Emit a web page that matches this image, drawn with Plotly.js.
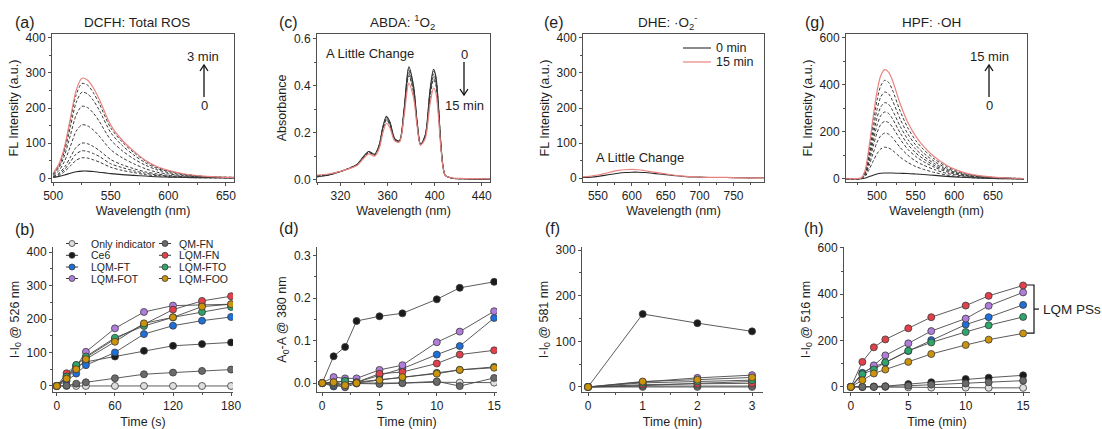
<!DOCTYPE html>
<html>
<head>
<meta charset="utf-8">
<script src="https://cdn.plot.ly/plotly-3.0.1.min.js"></script>
<style>html,body{margin:0;padding:0;background:#fff;}#chart{width:1102px;height:429px;}</style>
</head>
<body>
<div id="chart"></div>
<script>
// ---------------- DATA ----------------
// (a) DCFH: Total ROS, emission spectra, 0 -> 3 min
const wlDCFH = [500,505,510,515,520,525,530,535,540,550,560,570,580,590,600,615,630,645,660];
const dcfhStart = [2,5,9,14,18,20,20,19,17,13,10,8,6,4,3,2,1,1,0];
const dcfhMid = [
  [3,8,19,35,51,58,57,52,46,31,22,16,10,7,4,2,1,1,0],
  [4,11,25,47,69,78,76,70,62,41,30,21,14,9,6,3,2,1,1],
  [5,14,32,60,88,100,98,90,79,53,38,27,18,12,8,4,2,1,1],
  [8,21,49,91,134,152,149,137,120,81,58,41,27,17,12,6,3,2,1],
  [10,29,66,123,180,205,201,185,162,109,78,55,37,24,16,8,4,2,2],
  [12,34,78,147,216,245,240,221,194,130,93,66,44,28,19,10,5,3,2],
  [14,38,86,162,238,270,265,243,213,143,103,73,49,31,21,11,5,3,2]
];
const dcfhEnd = [14,40,91,171,251,285,279,257,225,151,108,77,51,33,22,11,6,3,2];

// (c) ABDA: 1O2, absorbance, 0 -> 15 min
const wlABDA = [300,310,320,328,334,339,344,349,353,356,359,362,366,370,374,378,382,385,388,392,396,399,401,403,405,407,409,415,425,435,447];
const abdaStart = [0.012,0.020,0.035,0.050,0.065,0.095,0.120,0.108,0.150,0.225,0.270,0.245,0.175,0.165,0.300,0.480,0.400,0.250,0.150,0.190,0.380,0.470,0.440,0.330,0.170,0.060,0.018,0.006,0.004,0.003,0.002];
const abdaMid = [
  [0.013,0.020,0.035,0.050,0.065,0.094,0.119,0.107,0.149,0.223,0.267,0.243,0.174,0.165,0.297,0.473,0.395,0.248,0.150,0.189,0.374,0.462,0.433,0.325,0.168,0.060,0.018,0.006,0.004,0.003,0.002],
  [0.014,0.021,0.035,0.050,0.064,0.093,0.118,0.106,0.146,0.219,0.263,0.239,0.173,0.164,0.293,0.463,0.388,0.245,0.149,0.186,0.365,0.450,0.423,0.318,0.165,0.059,0.018,0.006,0.004,0.003,0.002],
  [0.015,0.022,0.035,0.049,0.063,0.092,0.116,0.105,0.144,0.215,0.258,0.235,0.171,0.163,0.288,0.452,0.380,0.242,0.149,0.184,0.356,0.438,0.412,0.310,0.162,0.058,0.018,0.006,0.004,0.003,0.002],
  [0.016,0.022,0.035,0.049,0.062,0.091,0.115,0.104,0.142,0.211,0.254,0.231,0.170,0.162,0.284,0.442,0.373,0.239,0.148,0.182,0.347,0.426,0.402,0.303,0.159,0.057,0.018,0.006,0.004,0.003,0.002]
];
const abdaEnd = [0.019,0.024,0.035,0.048,0.060,0.087,0.110,0.100,0.135,0.200,0.240,0.220,0.165,0.160,0.270,0.410,0.350,0.230,0.147,0.175,0.320,0.390,0.370,0.280,0.150,0.055,0.018,0.007,0.005,0.004,0.003];

// (e) DHE: .O2-, emission spectra
const wlDHE = [528,540,550,560,570,580,590,600,610,620,630,640,650,660,670,680,700,720,740,760,795];
const dhe0min = [2,3,5,8,11,14,16,17,17,16,14,12,10,8,6,4,3,2,2,1,1];
const dhe15min = [4,6,9,13,18,22,24,25,24,21,18,15,12,9,7,5,3,2,2,1,1];

// (g) HPF: .OH, emission spectra, 0 -> 15 min
const wlHPF = [460,470,480,485,490,495,500,505,510,515,520,530,540,550,560,575,590,600,615,630,650,670,690];
const hpfStart = [0,0,1,4,10,16,21,24,25,25,25,24,23,21,19,15,11,9,6,4,2,1,0];
const hpfMid = [
  [0,0,1,12,41,75,107,128,135,132,122,93,70,53,41,27,17,12,7,4,2,1,1],
  [0,0,2,17,59,109,155,184,195,191,176,134,101,76,59,39,24,18,11,6,3,2,1],
  [0,0,3,21,74,137,195,232,245,240,221,169,126,96,74,49,31,22,13,8,4,2,1],
  [0,1,3,25,86,159,227,270,285,279,257,196,147,111,86,56,36,26,15,9,5,3,1],
  [0,1,4,28,98,182,259,307,325,318,293,224,168,127,98,64,41,29,18,10,6,3,1],
  [0,1,4,32,111,207,295,350,370,362,334,255,191,145,111,73,46,33,20,12,6,3,1],
  [0,1,5,36,126,235,334,397,420,411,379,289,217,164,126,83,53,38,23,13,7,4,2]
];
const hpfEnd = [0,1,5,40,140,260,370,440,465,455,420,320,240,182,140,92,58,42,25,15,8,4,2];

// Kinetics: series names (legend order)
const seriesNames = ['Only indicator','Ce6','LQM-FT','LQM-FOT','QM-FN','LQM-FN','LQM-FTO','LQM-FOO'];

// (b) I-I0 @ 526 nm vs time (s)
const timeB = [0,10,20,30,60,90,120,150,180];
const onlyB = [0,0,0,0,0,0,0,0,0];
const ce6B  = [0,25,55,72,88,105,120,125,130];
const ftB   = [0,15,37,62,100,155,180,195,206];
const fotB  = [0,30,58,102,172,221,240,242,244];
const qmB   = [0,1,7,11,23,35,40,45,49];
const fnB   = [0,38,62,85,140,185,228,254,268];
const ftoB  = [0,28,63,88,144,179,205,221,236];
const fooB  = [0,22,50,80,132,187,205,237,244];

// (d) A0-A @ 380 nm vs time (min)
const timeD = [0,1,2,3,5,7,10,12,15];
const onlyD = [0,-0.003,-0.003,0,0,0,0.002,0.001,0.001];
const ce6D  = [0,0.063,0.085,0.146,0.157,0.164,0.197,0.224,0.238];
const ftD   = [0,-0.008,-0.003,0.002,0.018,0.034,0.067,0.087,0.153];
const fotD  = [0,0.014,0.011,0.011,0.031,0.042,0.096,0.121,0.169];
const qmD   = [0,-0.005,-0.010,-0.001,-0.002,0,0.004,-0.007,0.012];
const fnD   = [0,0.002,0.005,0.002,0.022,0.026,0.046,0.067,0.077];
const ftoD  = [0,0,0.005,0.002,0.008,0.013,0.024,0.031,0.038];
const fooD  = [0,0.002,-0.005,0,0.007,0.014,0.022,0.031,0.036];

// (f) I-I0 @ 581 nm vs time (min)
const timeF = [0,1,2,3];
const onlyF = [0,0,0,0];
const ce6F  = [0,160,140,122];
const ftF   = [0,3,8,12];
const fotF  = [0,11,20,26];
const qmF   = [0,2,2,2];
const fnF   = [0,5,7,8];
const ftoF  = [0,9,12,15];
const fooF  = [0,12,16,21];

// (h) I-I0 @ 516 nm vs time (min)
const timeH = [0,1,2,3,5,7,10,12,15];
const onlyH = [0,0,0,0,-2,-3,-3,-4,-4];
const ce6H  = [0,0,2,3,12,20,34,40,50];
const ftH   = [0,61,87,105,155,202,269,301,354];
const fotH  = [0,55,93,136,188,241,295,350,408];
const qmH   = [0,0,0,2,5,10,15,20,27];
const fnH   = [0,108,171,205,253,301,351,393,438];
const ftoH  = [0,55,75,106,156,192,237,266,302];
const fooH  = [0,29,58,75,108,142,181,204,231];

// ---------------- STYLE ----------------
const W = 1102, H = 429;
const FONT = 'Liberation Sans, Arial, Helvetica, sans-serif';
const TXT = '#1e1e1e';
const AXC = '#505050';
const seriesColors = ['#dedede','#1b1b1b','#1f6fd8','#b07ddb','#6a6a6a','#e2404a','#2ea56b','#cc930c'];
const px = v => v / W;
const py = v => 1 - v / H;

const traces = [];
function spectra(xa, ya, wl, start, mids, end, endColor) {
  traces.push({x: wl, y: start, xaxis: xa, yaxis: ya, mode: 'lines', type: 'scatter', showlegend: false, hoverinfo: 'skip',
    line: {color: '#2a2a2a', width: 1.1, shape: 'spline', smoothing: 0.8}});
  mids.forEach(m => traces.push({x: wl, y: m, xaxis: xa, yaxis: ya, mode: 'lines', type: 'scatter', showlegend: false, hoverinfo: 'skip',
    line: {color: '#3a3a3a', width: 1, dash: '3px,2px', shape: 'spline', smoothing: 0.8}}));
  traces.push({x: wl, y: end, xaxis: xa, yaxis: ya, mode: 'lines', type: 'scatter', showlegend: false, hoverinfo: 'skip',
    line: {color: endColor, width: 1.2, shape: 'spline', smoothing: 0.8}});
}
spectra('x', 'y', wlDCFH, dcfhStart, dcfhMid, dcfhEnd, '#e8837f');
spectra('x2', 'y2', wlABDA, abdaStart, abdaMid, abdaEnd, '#e8837f');
traces.push({x: wlDHE, y: dhe0min, xaxis: 'x3', yaxis: 'y3', mode: 'lines', type: 'scatter', showlegend: false, hoverinfo: 'skip',
  line: {color: '#2a2a2a', width: 1.1, shape: 'spline', smoothing: 0.8}});
traces.push({x: wlDHE, y: dhe15min, xaxis: 'x3', yaxis: 'y3', mode: 'lines', type: 'scatter', showlegend: false, hoverinfo: 'skip',
  line: {color: '#e8837f', width: 1.2, shape: 'spline', smoothing: 0.8}});
spectra('x4', 'y4', wlHPF, hpfStart, hpfMid, hpfEnd, '#e8837f');

function kinetics(xa, ya, t, sets) {
  sets.forEach((vals, i) => traces.push({
    x: t, y: vals, xaxis: xa, yaxis: ya, type: 'scatter', mode: 'lines+markers', name: seriesNames[i], showlegend: false,
    line: {color: '#4a4a4a', width: 0.9},
    marker: {size: 7, color: seriesColors[i], line: {color: '#3a3a3a', width: 0.8}}
  }));
}
kinetics('x5', 'y5', timeB, [onlyB, ce6B, ftB, fotB, qmB, fnB, ftoB, fooB]);
kinetics('x6', 'y6', timeD, [onlyD, ce6D, ftD, fotD, qmD, fnD, ftoD, fooD]);
kinetics('x7', 'y7', timeF, [onlyF, ce6F, ftF, fotF, qmF, fnF, ftoF, fooF]);
kinetics('x8', 'y8', timeH, [onlyH, ce6H, ftH, fotH, qmH, fnH, ftoH, fooH]);

// ---------------- AXES ----------------
function axis(dom, range, anchor, opts) {
  return Object.assign({
    domain: dom, range: range, anchor: anchor, showline: true, linecolor: AXC, linewidth: 1,
    ticks: 'outside', ticklen: 3, tickwidth: 1, tickcolor: AXC, showgrid: false, zeroline: false,
    tickfont: {size: 12, color: TXT, family: FONT}, automargin: false
  }, opts);
}
const topY = [py(182), py(34)];
const botY = [py(392), py(247)];
const xt = (txt, so) => ({text: txt, font: {size: 12.5, color: TXT, family: FONT}, standoff: so});
const layout = {
  width: W, height: H, margin: {l: 0, r: 0, t: 0, b: 0}, paper_bgcolor: '#fff', plot_bgcolor: 'rgba(0,0,0,0)',
  font: {family: FONT, color: TXT, size: 12}, showlegend: false,
  xaxis:  axis([px(52), px(234)], [499, 657], 'y',  {mirror: true, dtick: 50, tick0: 500, minor: {dtick: 25, ticks: 'outside', ticklen: 2, tickcolor: AXC}, title: xt('Wavelength (nm)', 3)}),
  yaxis:  axis(topY, [-11, 411], 'x',  {mirror: true, dtick: 100, minor: {dtick: 50, ticks: 'outside', ticklen: 2, tickcolor: AXC}, title: xt('FL Intensity (a.u.)', 4)}),
  xaxis2: axis([px(317), px(490)], [300, 447], 'y2', {mirror: true, dtick: 40, tick0: 320, minor: {dtick: 20, ticks: 'outside', ticklen: 2, tickcolor: AXC}, title: xt('Wavelength (nm)', 3)}),
  yaxis2: axis(topY, [-0.01, 0.62], 'x2', {mirror: true, dtick: 0.2, tickformat: '.1f', minor: {dtick: 0.1, ticks: 'outside', ticklen: 2, tickcolor: AXC}, title: xt('Absorbance', 4)}),
  xaxis3: axis([px(583), px(764)], [528, 795], 'y3', {mirror: true, dtick: 50, tick0: 550, minor: {dtick: 25, ticks: 'outside', ticklen: 2, tickcolor: AXC}, title: xt('Wavelength (nm)', 3)}),
  yaxis3: axis(topY, [-11, 411], 'x3', {mirror: true, dtick: 100, minor: {dtick: 50, ticks: 'outside', ticklen: 2, tickcolor: AXC}, title: xt('FL Intensity (a.u.)', 4)}),
  xaxis4: axis([px(846), px(1027)], [460, 694], 'y4', {mirror: true, dtick: 50, tick0: 500, minor: {dtick: 25, ticks: 'outside', ticklen: 2, tickcolor: AXC}, title: xt('Wavelength (nm)', 3)}),
  yaxis4: axis(topY, [-13, 617], 'x4', {mirror: true, dtick: 200, minor: {dtick: 100, ticks: 'outside', ticklen: 2, tickcolor: AXC}, title: xt('FL Intensity (a.u.)', 4)}),
  xaxis5: axis([px(53), px(233)], [-4, 182], 'y5', {dtick: 60, tick0: 0, minor: {dtick: 30, ticks: 'outside', ticklen: 2, tickcolor: AXC}, title: xt('Time (s)', 4)}),
  yaxis5: axis(botY, [-18, 415], 'x5', {dtick: 100, minor: {dtick: 50, ticks: 'outside', ticklen: 2, tickcolor: AXC}, title: xt('I-I<sub>0</sub> @ 526 nm', 4)}),
  xaxis6: axis([px(317), px(497)], [-0.45, 15.25], 'y6', {dtick: 5, tick0: 0, minor: {dtick: 2.5, ticks: 'outside', ticklen: 2, tickcolor: AXC}, title: xt('Time (min)', 4)}),
  yaxis6: axis(botY, [-0.021, 0.32], 'x6', {dtick: 0.1, tickformat: '.1f', minor: {dtick: 0.05, ticks: 'outside', ticklen: 2, tickcolor: AXC}, title: xt('A<sub>0</sub>-A @ 380 nm', 4)}),
  xaxis7: axis([px(582), px(763)], [-0.11, 3.2], 'y7', {dtick: 1, tick0: 0, minor: {dtick: 0.5, ticks: 'outside', ticklen: 2, tickcolor: AXC}, title: xt('Time (min)', 4)}),
  yaxis7: axis(botY, [-11, 307], 'x7', {dtick: 100, minor: {dtick: 50, ticks: 'outside', ticklen: 2, tickcolor: AXC}, title: xt('I-I<sub>0</sub> @ 581 nm', 4)}),
  xaxis8: axis([px(844), px(1030)], [-0.6, 15.6], 'y8', {dtick: 5, tick0: 0, minor: {dtick: 2.5, ticks: 'outside', ticklen: 2, tickcolor: AXC}, title: xt('Time (min)', 4)}),
  yaxis8: axis(botY, [-22, 604], 'x8', {dtick: 200, minor: {dtick: 100, ticks: 'outside', ticklen: 2, tickcolor: AXC}, title: xt('I-I<sub>0</sub> @ 516 nm', 4)})
};

// ---------------- ANNOTATIONS & SHAPES ----------------
const ann = [];
const shapes = [];
function txt(x, y, text, size, anchor) {
  ann.push({xref: 'paper', yref: 'paper', x: px(x), y: py(y), text: text, showarrow: false,
    xanchor: anchor || 'center', yanchor: 'middle', font: {size: size, color: TXT, family: FONT}});
}
// panel letters
[['(a)',13,22],['(c)',277,22],['(e)',542,22],['(g)',803,22],['(b)',13,229],['(d)',277,228],['(f)',543,228],['(h)',802,228]]
  .forEach(p => txt(p[1], p[2], p[0], 16, 'left'));
// panel titles
txt(137, 22, 'DCFH: Total ROS', 13.5);
txt(402, 22, 'ABDA: <sup>1</sup>O<sub>2</sub>', 13.5);
txt(667, 22, 'DHE: ·O<sub>2</sub><sup>-</sup>', 13.5);
txt(931, 22, 'HPF: ·OH', 13.5);
// in-plot labels
txt(203, 56, '3 min', 13); txt(204, 105, '0', 13);
txt(370, 54, 'A Little Change', 13); txt(464, 55, '0', 13); txt(464, 106, '15 min', 13);
txt(640, 158, 'A Little Change', 13);
txt(989, 56, '15 min', 13); txt(989, 105, '0', 13);

function path(points, color, width) {
  const d = points.map((p, i) => (i ? 'L' : 'M') + px(p[0]).toFixed(5) + ',' + py(p[1]).toFixed(5)).join(' ');
  shapes.push({type: 'path', xref: 'paper', yref: 'paper', path: d, line: {color: color || '#111', width: width || 1.3}});
}
// arrows
path([[204, 97], [204, 66]]); path([[200, 71], [204, 65], [208, 71]]);
path([[464, 62], [464, 95]]); path([[460, 89], [464, 95], [468, 89]]);
path([[989, 97], [989, 66]]); path([[985, 71], [989, 65], [993, 71]]);

// (e) legend
path([[683, 48], [711, 48]], '#2a2a2a', 1.1);
path([[683, 62], [711, 62]], '#e8837f', 1.2);
txt(714, 48, '0 min', 12.5, 'left');
txt(714, 62, '15 min', 12.5, 'left');

// (b) legend (two columns)
const legRows = [243.5, 255.3, 267, 278.5];
seriesNames.forEach((name, i) => {
  const col = i < 4 ? 0 : 1;
  const row = i % 4;
  const lx0 = col ? 159 : 66, lx1 = col ? 171 : 78, cx = (lx0 + lx1) / 2, y = legRows[row];
  path([[lx0, y], [lx1, y]], '#3a3a3a', 1);
  shapes.push({type: 'circle', xref: 'paper', yref: 'paper', x0: px(cx - 3), x1: px(cx + 3), y0: py(y + 3), y1: py(y - 3),
    fillcolor: seriesColors[i], line: {color: '#3a3a3a', width: 0.8}});
  txt(col ? 177 : 89, y, name, 10.5, 'left');
});

// (h) bracket "LQM PSs"
shapes.push({type: 'path', xref: 'paper', yref: 'y8',
  path: `M${px(1027)},440 L${px(1034)},440 L${px(1034)},232 L${px(1027)},232`, line: {color: '#111', width: 1.2}});
shapes.push({type: 'path', xref: 'paper', yref: 'y8',
  path: `M${px(1034)},336 L${px(1039)},336`, line: {color: '#111', width: 1.2}});
ann.push({xref: 'paper', yref: 'y8', x: px(1041), y: 336, text: 'LQM PSs', showarrow: false, xanchor: 'left', yanchor: 'middle',
  font: {size: 13.5, color: TXT, family: FONT}});

layout.annotations = ann;
layout.shapes = shapes;

Plotly.newPlot('chart', traces, layout, {displayModeBar: false, staticPlot: true});
</script>
</body>
</html>
